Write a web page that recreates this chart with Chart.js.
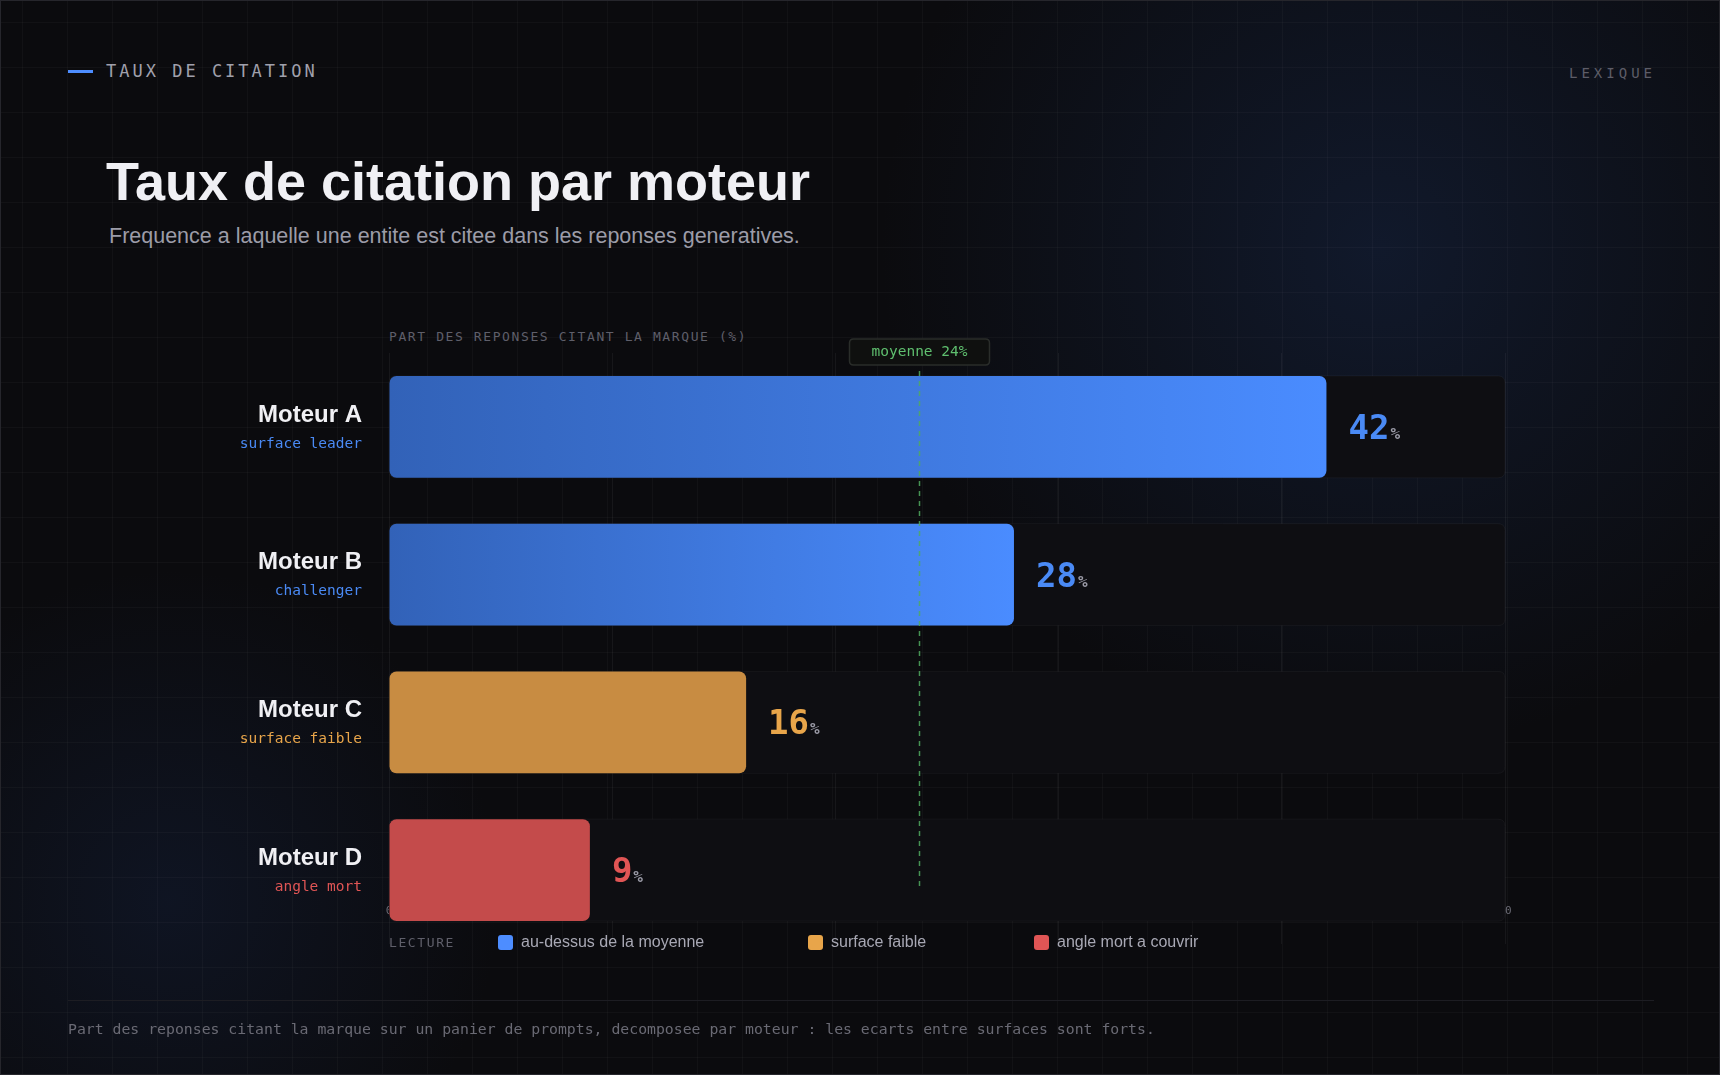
<!DOCTYPE html>
<html>
<head>
<meta charset="utf-8">
<script src="https://cdn.jsdelivr.net/npm/chart.js@4"></script>
<style>
  html, body { margin: 0; padding: 0; }
  body {
    width: 1720px; height: 1075px; overflow: hidden; position: relative;
    background:
      radial-gradient(circle at 1380px 250px, rgba(28, 52, 100, 0.34) 0px, rgba(28, 52, 100, 0) 500px),
      radial-gradient(circle at 170px 900px, rgba(24, 42, 82, 0.30) 0px, rgba(24, 42, 82, 0) 330px),
      #0b0b0e;
    font-family: "Liberation Sans", Arial, sans-serif;
  }
  .grid {
    position: absolute; inset: 0;
    background-image:
      linear-gradient(to right, rgba(255,255,255,0.028) 1px, transparent 1px),
      linear-gradient(to bottom, rgba(255,255,255,0.028) 1px, transparent 1px);
    background-size: 45px 45px;
    background-position: 22px 22px;
  }
  .frame { position: absolute; inset: 0; border: 1px solid #26262c; box-sizing: border-box; }
  .mono { font-family: "DejaVu Sans Mono", monospace; }
  .eyebrow { position: absolute; left: 68px; top: 60px; height: 22px; display: flex; align-items: center; }
  .eyebrow .bar { width: 25px; height: 3px; background: #4d8dff; margin-right: 13px; }
  .eyebrow span { font-size: 17px; letter-spacing: 3px; color: #a0a0ac; }
  .lexique { position: absolute; right: 64px; top: 65px; font-size: 14px; letter-spacing: 4px; color: #5d5d68; }
  h1 { position: absolute; left: 106px; top: 149px; margin: 0; font-size: 54px; font-weight: bold;
       letter-spacing: 0; color: #f0f0f4; line-height: 64px; }
  .sub { position: absolute; left: 109px; top: 224px; font-size: 21.5px; color: #9c9ca8; }
  .axis-title { position: absolute; left: 389px; top: 329px; font-size: 13px; letter-spacing: 1.6px; color: #5f5f6a; }
  canvas#c { position: absolute; left: 0; top: 0; }
  .legend { position: absolute; left: 389px; top: 932px; height: 20px; display: flex; align-items: center; }
  .legend .lab { font-size: 13px; letter-spacing: 1.6px; color: #5f5f6a; width: 109px; }
  .legend .item { display: flex; align-items: center; font-size: 16px; color: #a8a8b4; }
  .legend .sw { width: 15px; height: 15px; border-radius: 3px; margin-right: 8px; }
  .footer-line { position: absolute; left: 68px; width: 1586px; top: 1000px; height: 1px; background: #1d1d23; }
  .footer { position: absolute; left: 68px; top: 1020px; font-size: 14.8px; color: #6a6a74; }
</style>
</head>
<body>
<div class="grid"></div>
<div class="frame"></div>

<div class="eyebrow"><div class="bar"></div><span class="mono">TAUX DE CITATION</span></div>
<div class="lexique mono">LEXIQUE</div>
<h1>Taux de citation par moteur</h1>
<div class="sub">Frequence a laquelle une entite est citee dans les reponses generatives.</div>
<div class="axis-title mono">PART DES REPONSES CITANT LA MARQUE (%)</div>

<canvas id="c" width="1720" height="1075"></canvas>

<div class="legend">
  <div class="lab mono">LECTURE</div>
  <div class="item" style="width:310px"><div class="sw" style="background:#4d8dff"></div>au-dessus de la moyenne</div>
  <div class="item" style="width:226px"><div class="sw" style="background:#e8a54a"></div>surface faible</div>
  <div class="item"><div class="sw" style="background:#e05555"></div>angle mort a couvrir</div>
</div>

<div class="footer-line"></div>
<div class="footer mono">Part des reponses citant la marque sur un panier de prompts, decomposee par moteur : les ecarts entre surfaces sont forts.</div>

<script>
// data
const categories = ['Moteur A', 'Moteur B', 'Moteur C', 'Moteur D'];
const subLabels = ['surface leader', 'challenger', 'surface faible', 'angle mort'];
const values = [42, 28, 16, 9];
const tiers = ['high', 'high', 'low', 'blind'];
const xMax = 50;
const xStep = 10;

const mean = values.reduce((a, b) => a + b, 0) / values.length;

const tierColor = { high: '#4a8af5', low: '#e8a54a', blind: '#e05555' };
const barSolid = { low: '#c88c42', blind: '#c44b4b' };
const mono = '"DejaVu Sans Mono", monospace';
const sans = '"Liberation Sans", Arial, sans-serif';

function barColor(c) {
  const tier = tiers[c.dataIndex];
  if (tier !== 'high') return barSolid[tier];
  const chart = c.chart;
  if (!chart.chartArea) return '#3f78dc';
  const x = chart.scales.x;
  const x0 = x.getPixelForValue(0);
  const x1 = x.getPixelForValue(values[c.dataIndex]);
  const g = chart.ctx.createLinearGradient(x0, 0, x1, 0);
  g.addColorStop(0, '#3262b8');
  g.addColorStop(1, '#4a8cff');
  return g;
}

function roundRect(ctx, x, y, w, h, r) {
  ctx.beginPath();
  ctx.moveTo(x + r, y);
  ctx.lineTo(x + w - r, y);
  ctx.quadraticCurveTo(x + w, y, x + w, y + r);
  ctx.lineTo(x + w, y + h - r);
  ctx.quadraticCurveTo(x + w, y + h, x + w - r, y + h);
  ctx.lineTo(x + r, y + h);
  ctx.quadraticCurveTo(x, y + h, x, y + h - r);
  ctx.lineTo(x, y + r);
  ctx.quadraticCurveTo(x, y, x + r, y);
  ctx.closePath();
}

// tick labels half hidden behind the tracks, then the tracks
const tracks = {
  id: 'tracks',
  beforeDatasetsDraw(chart) {
    const ctx = chart.ctx, area = chart.chartArea, x = chart.scales.x;
    ctx.save();
    ctx.font = '11px ' + mono;
    ctx.fillStyle = '#6a6a74';
    ctx.textAlign = 'center';
    ctx.textBaseline = 'middle';
    x.ticks.forEach(t => {
      ctx.fillText(String(t.value), x.getPixelForValue(t.value), area.bottom - 33);
    });
    const meta = chart.getDatasetMeta(0);
    meta.data.forEach(bar => {
      const top = bar.y - bar.height / 2;
      roundRect(ctx, area.left, top, area.right - area.left, bar.height, 7);
      ctx.fillStyle = '#0e0e12';
      ctx.fill();
      ctx.strokeStyle = 'rgba(255,255,255,0.045)';
      ctx.lineWidth = 1;
      ctx.stroke();
    });
    ctx.restore();
  }
};

const overlay = {
  id: 'overlay',
  afterDatasetsDraw(chart) {
    const ctx = chart.ctx, area = chart.chartArea, x = chart.scales.x, y = chart.scales.y;
    const meta = chart.getDatasetMeta(0);
    ctx.save();

    // mean line + badge
    const mx = Math.round(x.getPixelForValue(mean)) + 0.5;
    ctx.strokeStyle = 'rgba(80, 170, 95, 0.85)';
    ctx.lineWidth = 1.5;
    ctx.setLineDash([5, 5]);
    ctx.beginPath();
    ctx.moveTo(mx, area.top + 18);
    ctx.lineTo(mx, area.bottom - 57);
    ctx.stroke();
    ctx.setLineDash([]);
    roundRect(ctx, mx - 70, area.top - 14, 140, 26, 4);
    ctx.fillStyle = '#0f100f';
    ctx.fill();
    ctx.strokeStyle = '#2a2d2a';
    ctx.stroke();
    ctx.font = '14.5px ' + mono;
    ctx.fillStyle = '#5fbf6f';
    ctx.textAlign = 'center';
    ctx.textBaseline = 'middle';
    ctx.fillText('moyenne ' + Math.round(mean) + '%', mx, area.top - 1);

    // value labels
    meta.data.forEach((bar, i) => {
      const lx = bar.x + 22;
      const ly = bar.y;
      ctx.textAlign = 'left';
      ctx.textBaseline = 'alphabetic';
      ctx.font = 'bold 34px ' + mono;
      ctx.fillStyle = tierColor[tiers[i]];
      const txt = String(values[i]);
      ctx.fillText(txt, lx, ly + 12);
      const w = ctx.measureText(txt).width;
      ctx.font = 'bold 16px ' + mono;
      ctx.fillStyle = '#9a9aa6';
      ctx.fillText('%', lx + w + 1, ly + 12);
    });

    // category labels
    categories.forEach((name, i) => {
      const cy = y.getPixelForValue(i);
      ctx.textAlign = 'right';
      ctx.textBaseline = 'middle';
      ctx.font = 'bold 24px ' + sans;
      ctx.fillStyle = '#f0f0f4';
      ctx.fillText(name, area.left - 27, cy - 12);
      ctx.font = '14.5px ' + mono;
      ctx.fillStyle = tierColor[tiers[i]];
      ctx.fillText(subLabels[i], area.left - 27, cy + 17);
    });
    ctx.restore();
  }
};

new Chart(document.getElementById('c'), {
  type: 'bar',
  data: {
    labels: categories,
    datasets: [{
      label: 'Part des reponses',
      data: values,
      backgroundColor: barColor,
      borderRadius: 7,
      borderSkipped: false,
      barPercentage: 0.69,
      categoryPercentage: 1
    }]
  },
  options: {
    indexAxis: 'y',
    responsive: false,
    animation: false,
    layout: { padding: { left: 389, right: 215, top: 353, bottom: 131 } },
    scales: {
      x: {
        min: 0, max: xMax,
        ticks: { display: false, stepSize: xStep },
        grid: { color: 'rgba(255,255,255,0.05)', drawTicks: false },
        border: { display: false }
      },
      y: { display: false }
    },
    plugins: { legend: { display: false }, tooltip: { enabled: false } }
  },
  plugins: [tracks, overlay]
});
</script>
</body>
</html>
